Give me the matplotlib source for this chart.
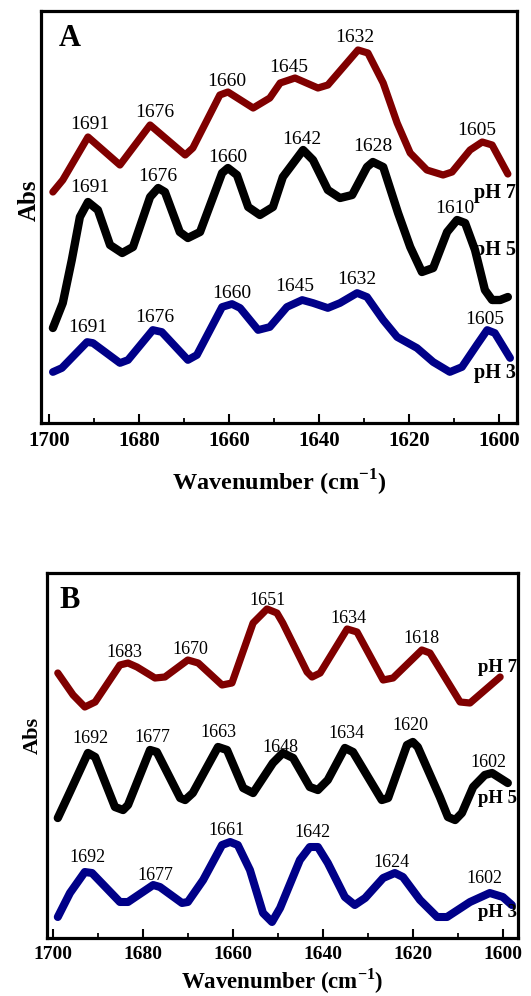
import matplotlib

matplotlib.use("Agg")
import matplotlib.pyplot as plt
from matplotlib.ticker import MultipleLocator

plt.rcParams["font.family"] = "Liberation Serif"
plt.rcParams["mathtext.fontset"] = "custom"
plt.rcParams["mathtext.rm"] = "Liberation Serif"
plt.rcParams["mathtext.bf"] = "Liberation Serif:bold"

RED = "#800000"
BLACK = "#000000"
BLUE = "#000088"

# ---- panel A (wavenumber, absorbance in arbitrary units) ----
A_WN_PH7 = [1699.2, 1697.0, 1691.4, 1684.3, 1677.6, 1669.8, 1668.1, 1662.1, 1660.3,
            1654.7, 1651.0, 1648.7, 1645.4, 1640.3, 1638.1, 1631.4, 1629.2, 1625.8,
            1622.7, 1619.8, 1616.1, 1612.5, 1610.5, 1606.5, 1603.8, 1601.6, 1598.1]
A_ABS_PH7 = [2.31, 2.43, 2.86, 2.58, 2.98, 2.68, 2.75, 3.28, 3.31, 3.15, 3.25, 3.40,
             3.45, 3.35, 3.38, 3.73, 3.70, 3.40, 3.00, 2.70, 2.53, 2.48, 2.51, 2.73,
             2.81, 2.78, 2.49]

A_WN_PH5 = [1699.2, 1697.0, 1695.0, 1693.2, 1691.4, 1689.2, 1686.5, 1683.8, 1681.4,
            1677.6, 1675.8, 1674.3, 1671.0, 1669.2, 1666.5, 1661.6, 1660.3, 1658.3,
            1655.8, 1653.2, 1650.3, 1648.1, 1643.6, 1641.4, 1638.1, 1635.4, 1632.7,
            1629.4, 1628.1, 1625.8, 1622.5, 1619.8, 1617.2, 1614.7, 1611.6, 1609.4,
            1607.6, 1605.4, 1603.2, 1601.6, 1599.8, 1598.1]
A_ABS_PH5 = [0.95, 1.20, 1.63, 2.06, 2.21, 2.13, 1.78, 1.70, 1.76, 2.26, 2.35, 2.31,
             1.91, 1.85, 1.91, 2.50, 2.55, 2.48, 2.16, 2.08, 2.16, 2.46, 2.73, 2.63,
             2.33, 2.25, 2.28, 2.56, 2.61, 2.56, 2.10, 1.76, 1.51, 1.55, 1.91, 2.03,
             2.00, 1.73, 1.33, 1.23, 1.23, 1.26]

A_WN_PH3 = [1699.2, 1697.2, 1691.6, 1690.3, 1684.3, 1682.5, 1677.0, 1675.0, 1669.2,
            1667.2, 1661.6, 1659.4, 1657.6, 1653.6, 1651.0, 1647.2, 1643.8, 1641.4,
            1638.1, 1635.4, 1631.6, 1629.4, 1625.8, 1622.7, 1618.3, 1614.7, 1611.0,
            1608.3, 1605.0, 1602.7, 1601.0, 1597.6]
A_ABS_PH3 = [0.51, 0.55, 0.81, 0.80, 0.60, 0.63, 0.93, 0.91, 0.63, 0.68, 1.16, 1.19,
             1.15, 0.93, 0.96, 1.16, 1.23, 1.20, 1.15, 1.20, 1.30, 1.26, 1.03, 0.86,
             0.75, 0.61, 0.51, 0.56, 0.78, 0.93, 0.90, 0.65]

# peak labels: (text, wavenumber, abs)
A_PEAKS_PH7 = [("1691", 1690.9, 2.98), ("1676", 1676.5, 3.10), ("1660", 1660.5, 3.41),
               ("1645", 1646.8, 3.55), ("1632", 1632.2, 3.85), ("1605", 1605.0, 2.92)]
A_PEAKS_PH5 = [("1691", 1690.9, 2.35), ("1676", 1675.8, 2.46), ("1660", 1660.3, 2.65),
               ("1642", 1643.8, 2.83), ("1628", 1628.1, 2.76), ("1610", 1609.8, 2.14)]
A_PEAKS_PH3 = [("1691", 1691.4, 0.95), ("1676", 1676.5, 1.06), ("1660", 1659.4, 1.30),
               ("1645", 1645.4, 1.36), ("1632", 1631.6, 1.44), ("1605", 1603.2, 1.04)]
A_PH_LABELS = [("pH 7", 2.30), ("pH 5", 1.73), ("pH 3", 0.50)]

# ---- panel B ----
B_WN_PH7 = [1699.0, 1695.6, 1693.0, 1690.7, 1685.2, 1683.4, 1681.4, 1677.4, 1675.2,
            1670.1, 1667.8, 1662.5, 1660.3, 1655.6, 1652.5, 1650.3, 1649.0, 1643.6,
            1642.5, 1640.7, 1634.7, 1632.5, 1626.7, 1624.5, 1618.1, 1616.3, 1609.6,
            1607.4, 1600.7]
B_ABS_PH7 = [2.65, 2.43, 2.31, 2.36, 2.73, 2.75, 2.71, 2.60, 2.61, 2.78, 2.75, 2.53,
             2.55, 3.15, 3.29, 3.25, 3.15, 2.66, 2.61, 2.65, 3.09, 3.06, 2.58, 2.60,
             2.88, 2.85, 2.36, 2.35, 2.61]

B_WN_PH5 = [1699.0, 1696.3, 1692.3, 1690.7, 1686.3, 1684.5, 1683.4, 1678.5, 1677.0,
            1671.8, 1670.7, 1669.0, 1663.4, 1661.4, 1657.8, 1655.6, 1651.2, 1649.0,
            1646.7, 1643.0, 1641.2, 1639.0, 1635.2, 1633.4, 1627.0, 1625.6, 1621.4,
            1620.1, 1619.0, 1614.1, 1612.3, 1610.7, 1609.2, 1606.7, 1604.1, 1602.5,
            1599.0]
B_ABS_PH5 = [1.20, 1.46, 1.85, 1.81, 1.31, 1.28, 1.33, 1.88, 1.86, 1.40, 1.38, 1.45,
             1.91, 1.88, 1.50, 1.45, 1.75, 1.85, 1.80, 1.51, 1.48, 1.58, 1.90, 1.86,
             1.38, 1.40, 1.93, 1.96, 1.91, 1.41, 1.21, 1.18, 1.25, 1.51, 1.63, 1.65,
             1.55]

B_WN_PH3 = [1699.0, 1696.3, 1693.0, 1691.4, 1685.2, 1683.4, 1677.8, 1676.3, 1671.4,
            1670.1, 1666.7, 1662.5, 1660.7, 1659.0, 1656.3, 1653.4, 1651.4, 1649.6,
            1645.2, 1643.0, 1641.2, 1639.0, 1635.2, 1633.0, 1630.7, 1626.7, 1624.1,
            1622.3, 1618.5, 1614.7, 1612.5, 1607.4, 1603.0, 1600.1, 1598.1]
B_ABS_PH3 = [0.21, 0.45, 0.66, 0.65, 0.36, 0.36, 0.53, 0.51, 0.35, 0.36, 0.58, 0.93,
             0.96, 0.93, 0.68, 0.25, 0.16, 0.30, 0.78, 0.91, 0.91, 0.75, 0.41, 0.33,
             0.40, 0.60, 0.65, 0.61, 0.38, 0.21, 0.21, 0.36, 0.45, 0.41, 0.33]

B_PEAKS_PH7 = [("1683", 1684.1, 2.86), ("1670", 1669.6, 2.89), ("1651", 1652.3, 3.38),
               ("1634", 1634.5, 3.20), ("1618", 1618.1, 3.00)]
B_PEAKS_PH5 = [("1692", 1691.8, 2.00), ("1677", 1678.1, 2.01), ("1663", 1663.4, 2.06),
               ("1648", 1649.6, 1.91), ("1634", 1634.8, 2.05), ("1620", 1620.7, 2.13),
               ("1602", 1603.2, 1.76)]
B_PEAKS_PH3 = [("1692", 1692.3, 0.81), ("1677", 1677.4, 0.63), ("1661", 1661.4, 1.08),
               ("1642", 1642.5, 1.06), ("1624", 1624.8, 0.76), ("1602", 1604.1, 0.60)]
B_PH_LABELS = [("pH 7", 2.71), ("pH 5", 1.40), ("pH 3", 0.26)]


def style_axes(ax, xlim, ylim, tick_fs):
    ax.set_xlim(*xlim)
    ax.set_ylim(*ylim)
    ax.set_yticks([])
    ax.xaxis.set_major_locator(MultipleLocator(20))
    ax.xaxis.set_minor_locator(MultipleLocator(10))
    ax.tick_params(axis="x", which="major", direction="in", length=6.5, width=1.5,
                   pad=6, labelsize=tick_fs)
    ax.tick_params(axis="x", which="minor", direction="in", length=3.6, width=1.3)
    for lab in ax.get_xticklabels():
        lab.set_fontweight("bold")
    for s in ax.spines.values():
        s.set_linewidth(2.3)


def draw_panel(ax, curves, peaks, ph_labels, letter, letter_xy, peak_fs, ph_fs,
               abs_xy, abs_fs, xlabel_y, xlabel_fs):
    for wn, ab, color, lw in curves:
        ax.plot(wn, ab, color=color, lw=lw, solid_joinstyle="round",
                solid_capstyle="round", zorder=3)
    for group in peaks:
        for txt, x, y in group:
            ax.text(x, y, txt, ha="center", va="center", fontsize=peak_fs, zorder=4)
    for txt, y in ph_labels:
        ax.text(0.998, y, txt, transform=ax.get_yaxis_transform(), ha="right",
                va="center", fontsize=ph_fs, fontweight="bold", zorder=4)
    ax.text(*letter_xy, letter, transform=ax.transAxes, ha="center", va="center",
            fontsize=22, fontweight="bold")
    ax.text(*abs_xy, "Abs", transform=ax.transAxes, ha="center", va="center",
            rotation=90, fontsize=abs_fs, fontweight="bold")
    ax.set_xlabel(r"Wavenumber (cm$^{\mathbf{-1}}$)", fontsize=xlabel_fs,
                  fontweight="bold")
    ax.xaxis.set_label_coords(0.5, xlabel_y)
    ax.xaxis.label.set_va("center")


fig = plt.figure(figsize=(5.31, 9.96), dpi=100)

axA = fig.add_axes([41 / 531, 1 - 423 / 996, 476 / 531, 412 / 996])
style_axes(axA, (1701.84, 1596.07), (0, 4.12), 15)
draw_panel(
    axA,
    [(A_WN_PH7, A_ABS_PH7, RED, 5.2), (A_WN_PH5, A_ABS_PH5, BLACK, 6.0),
     (A_WN_PH3, A_ABS_PH3, BLUE, 5.6)],
    [A_PEAKS_PH7, A_PEAKS_PH5, A_PEAKS_PH3], A_PH_LABELS, "A", (0.061, 0.934),
    14, 14.5, (-0.025, 0.541), 18, -0.146, 17.5,
)

axB = fig.add_axes([47 / 531, 1 - 938 / 996, 471 / 531, 365 / 996])
style_axes(axB, (1701.4, 1596.73), (0, 3.65), 14)
draw_panel(
    axB,
    [(B_WN_PH7, B_ABS_PH7, RED, 5.2), (B_WN_PH5, B_ABS_PH5, BLACK, 6.0),
     (B_WN_PH3, B_ABS_PH3, BLUE, 5.8)],
    [B_PEAKS_PH7, B_PEAKS_PH5, B_PEAKS_PH3], B_PH_LABELS, "B", (0.049, 0.926),
    13, 13.5, (-0.030, 0.556), 16, -0.118, 16.5,
)

fig.savefig("out.png", dpi=100)
